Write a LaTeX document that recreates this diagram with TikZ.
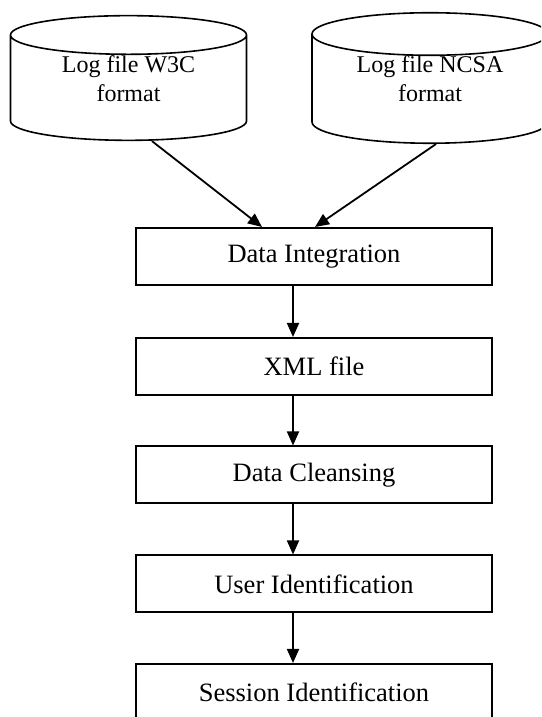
\documentclass[tikz,border=0pt]{standalone}
\usepackage{fontspec}
\setmainfont{Liberation Serif}
\usetikzlibrary{shapes.geometric,arrows.meta}

\begin{document}
\begin{tikzpicture}[x=0.5pt, y=0.5pt,
        logdb/.style={cylinder, shape border rotate=90, draw, line width=0.8pt, aspect=0.29,
            minimum width=118pt, inner sep=0pt, align=center,
            anchor=shape center, font=\fontsize{12}{14.5}\selectfont,
            execute at end node={\rule[-10pt]{0pt}{10pt}}},
        stepbox/.style={rectangle, draw, line width=1pt, minimum width=178pt, minimum height=28.5pt,
            font=\fontsize{13.25}{16}\selectfont},
        flow/.style={-{Triangle[width=6pt,length=7pt]}, line width=0.9pt}]
        \path[use as bounding box, clip] (0,0) rectangle (541,717);

        % Log file sources
        \node[logdb] (w3c) at (128.5,639) {Log file W3C\\format};
        \node[logdb] (ncsa) at (430,639) {Log file NCSA\\format};

        % Preprocessing steps
        \node[stepbox] (integ) at (314,460.5) {Data Integration};
        \node[stepbox] (xml) at (314,350.5) {XML file};
        \node[stepbox] (clean) at (314,242) {Data Cleansing};
        \node[stepbox] (user) at (314,133) {User Identification};
        \node[stepbox] (sess) at (314,24.5) {Session Identification};

        % Sources into integration
        \draw[flow] ([xshift=11.75pt]w3c.south) -- ([xshift=-26pt]integ.north);
        \draw[flow] ([xshift=3pt]ncsa.south) -- ([xshift=0.5pt]integ.north);

        % Step to step
        \draw[flow] ([xshift=-10.5pt]integ.south) -- ([xshift=-10.5pt]xml.north);
        \draw[flow] ([xshift=-10.5pt]xml.south) -- ([xshift=-10.5pt]clean.north);
        \draw[flow] ([xshift=-10.5pt]clean.south) -- ([xshift=-10.5pt]user.north);
        \draw[flow] ([xshift=-10.5pt]user.south) -- ([xshift=-10.5pt]sess.north);
    \end{tikzpicture}
\end{document}
